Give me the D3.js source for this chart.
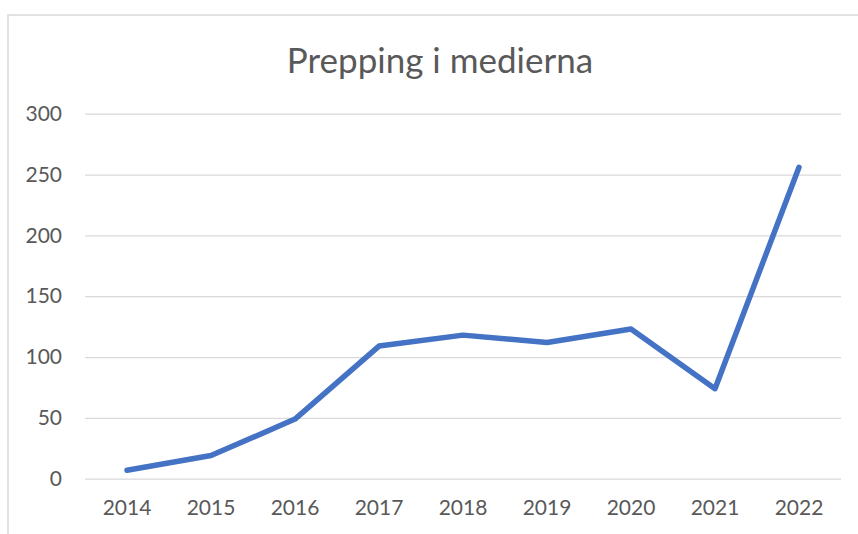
<!DOCTYPE html>
<html>
<head>
<meta charset="utf-8">
<script src="https://cdn.jsdelivr.net/npm/d3@7"></script>
<style>
    body { margin: 0; background: #fff; }
</style>
</head>
<body>
<div id="chart"></div>
<script>
"use strict";

// data
const years = ["2014", "2015", "2016", "2017", "2018", "2019", "2020", "2021", "2022"];
const counts = [7, 19, 49, 109, 118, 112, 123, 74, 256];
const yTicks = [0, 50, 100, 150, 200, 250, 300];
const chartTitle = "Prepping i medierna";

const msm = {
    width: 858,
    height: 534,
    left: 85,
    right: 841,
    top: 113.7,
    bottom: 478.7
}

const font = "Lato, 'Open Sans', sans-serif";
const textColor = "#595959";
const gridColor = "#d9d9d9";

let svg = d3.select("#chart")
    .append("svg")
    .attr("width", msm.width)
    .attr("height", msm.height);

// chart area border (runs off the right and bottom edge)
svg.append("rect")
    .attr("x", 8)
    .attr("y", 15)
    .attr("width", 900)
    .attr("height", 600)
    .attr("fill", "#fff")
    .attr("stroke", gridColor)
    .attr("stroke-width", 1.5);

let xScale = d3.scaleBand()
    .domain(years)
    .range([msm.left, msm.right]);

let yScale = d3.scaleLinear()
    .domain([0, 300])
    .range([msm.bottom, msm.top]);

// horizontal gridlines + y labels
let yAxis = d3.axisLeft(yScale)
    .tickValues(yTicks)
    .tickSize(-(msm.right - msm.left))
    .tickPadding(23);

let gy = svg.append("g")
    .attr("transform", "translate(" + msm.left + ",0)")
    .call(yAxis);
gy.select(".domain").remove();
gy.selectAll("line")
    .attr("stroke", gridColor)
    .attr("stroke-width", 1.3);
gy.selectAll("text")
    .attr("fill", textColor)
    .style("font-family", font)
    .style("font-size", "21px");

// x labels
let xAxis = d3.axisBottom(xScale)
    .tickSize(0)
    .tickPadding(21);

let gx = svg.append("g")
    .attr("transform", "translate(0," + msm.bottom + ")")
    .call(xAxis);
gx.select(".domain").remove();
gx.selectAll("text")
    .attr("fill", textColor)
    .style("font-family", font)
    .style("font-size", "21px");

// the line
let line = d3.line()
    .x((d, i) => xScale(years[i]) + xScale.bandwidth() / 2)
    .y((d) => yScale(d));

svg.append("path")
    .datum(counts)
    .attr("fill", "none")
    .attr("stroke", "#4472c4")
    .attr("stroke-width", 5.5)
    .attr("stroke-linejoin", "round")
    .attr("stroke-linecap", "round")
    .attr("d", line);

// title
svg.append("text")
    .attr("x", 440)
    .attr("y", 72.7)
    .attr("text-anchor", "middle")
    .attr("fill", textColor)
    .style("font-family", font)
    .style("font-size", "35px")
    .text(chartTitle);
</script>
</body>
</html>
